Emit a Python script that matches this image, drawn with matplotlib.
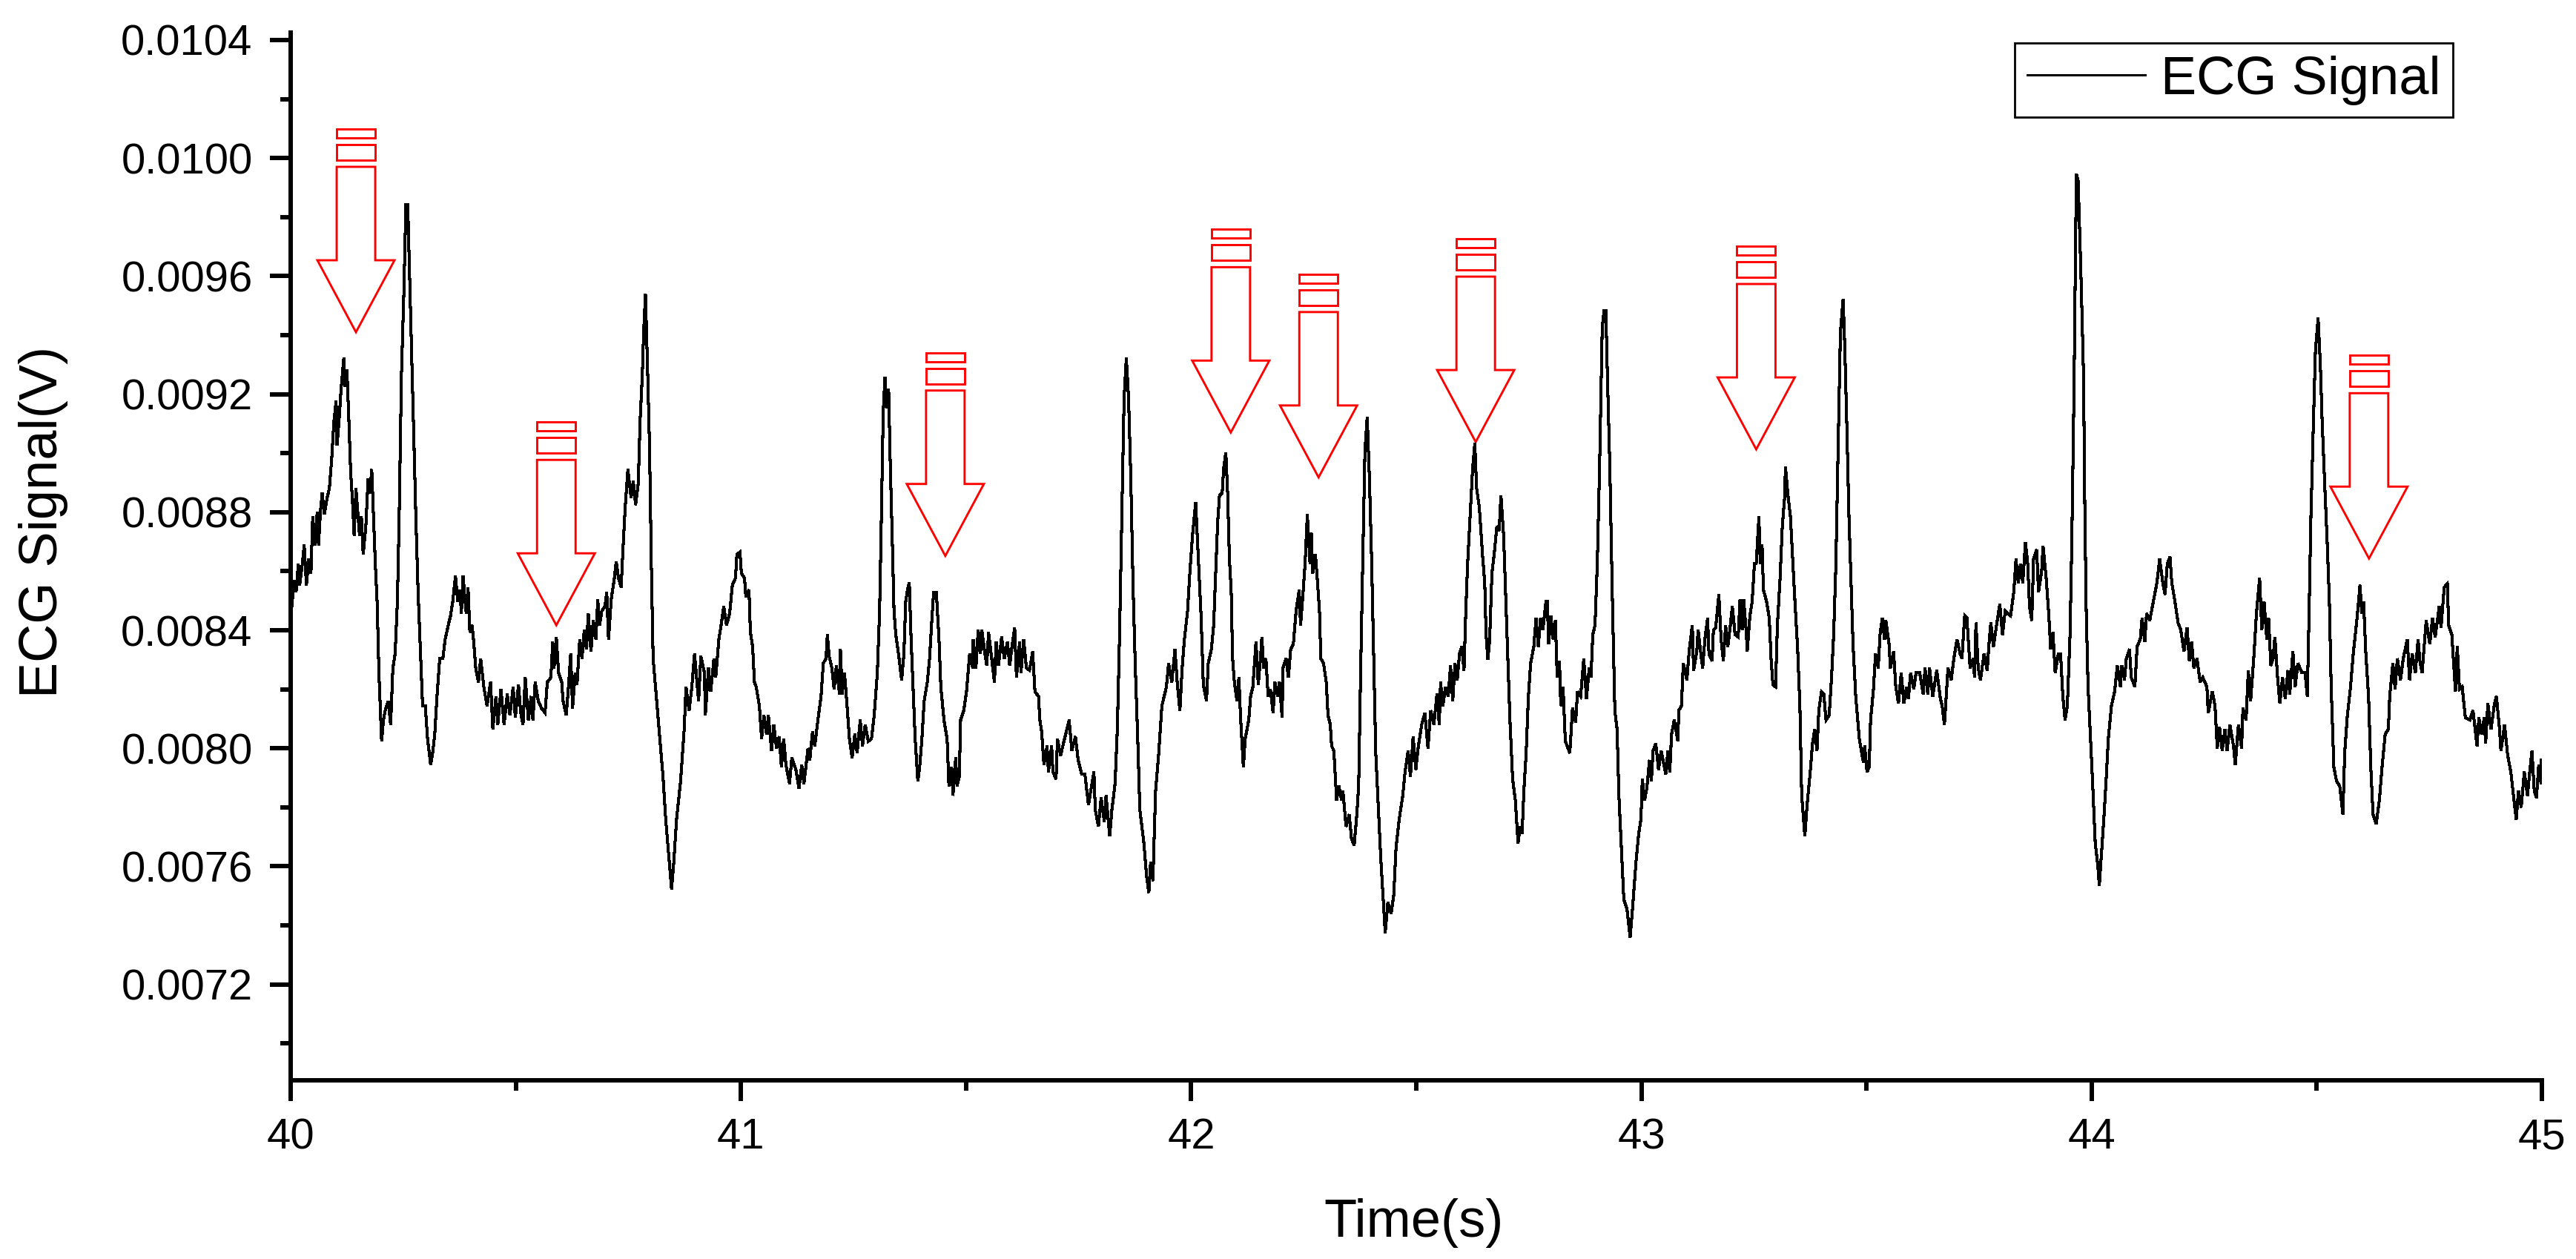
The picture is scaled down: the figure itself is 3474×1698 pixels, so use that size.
import numpy as np
import matplotlib
matplotlib.use("Agg")
import matplotlib.pyplot as plt
from matplotlib.patches import Polygon, Rectangle
from matplotlib.transforms import ScaledTranslation

plt.rcParams["font.family"] = ["Liberation Sans", "DejaVu Sans"]

# ms inside each second, signal in microvolts
ms_40 = [2,8,12,17,20,26,30,35,40,45,49,54,59,62,66,70,75,81,86,91,96,101,103,108,112,118,121,125,129,133,138,141,145,149,153,157,161,167,172,176,180,184,188,192,196,202,206,210,217,222,227,232,237,241,246,251,256,260,265,269,274,278,283,288,293,299,304,311,316,320,325,331,338,343,350,355,360,366,371,376,379,383,387,390,394,398,403,407,411,417,422,429,436,444,449,456,460,467,474,481,487,494,499,506,511,516,521,528,534,538,543,550,557,565,570,578,582,585,590,595,602,605,612,617,622,626,632,636,642,647,652,657,661,667,672,678,682,686,691,698,702,706,712,719,723,728,734,738,743,749,756,761,766,772,776,781,784,788,793,797,801,805,813,820,827,833,840,846,851,857,866,874,878,885,891,897,906,911,919,921,928,933,940,944,951,956,962,968,975,981,988,991,998]
uv_40 = [8473,8569,8529,8625,8553,8625,8689,8553,8641,8593,8785,8689,8801,8689,8801,8865,8793,8849,8881,8978,9106,9178,9026,9122,9218,9322,9226,9282,9122,8945,8817,8721,8881,8801,8721,8785,8657,8753,8913,8865,8945,8785,8625,8497,8256,8024,8096,8128,8160,8080,8272,8320,8497,8785,9266,9522,9843,9843,9554,9314,9026,8785,8529,8336,8144,8144,8032,7944,7992,8048,8176,8304,8304,8369,8417,8449,8497,8585,8497,8537,8457,8585,8505,8457,8545,8393,8417,8353,8272,8224,8304,8208,8144,8224,8064,8176,8080,8200,8080,8184,8112,8208,8104,8216,8120,8080,8240,8096,8176,8096,8224,8160,8136,8120,8224,8240,8361,8272,8377,8256,8224,8160,8112,8208,8320,8136,8256,8216,8369,8304,8401,8336,8457,8328,8433,8369,8505,8417,8465,8481,8529,8369,8505,8577,8633,8577,8545,8673,8817,8945,8849,8905,8825,8897,9106,9266,9410,9538,9266,9026,8625,8304,8160,8032,7904,7759,7631,7522,7615,7759,7888,8064,8208,8128,8208,8320,8160,8312,8256,8112,8272,8192,8304,8240,8369,8417,8481,8417,8457,8553,8577,8657,8665]

ms_41 = [1,8,11,18,21,26,30,34,41,46,51,57,61,68,73,79,85,90,95,100,108,113,122,129,135,140,149,153,159,164,171,178,183,189,192,196,202,207,212,219,221,225,230,235,241,247,253,258,265,270,276,283,290,296,303,308,312,316,320,323,328,332,337,340,344,350,357,362,366,370,374,378,384,387,393,397,402,407,414,419,424,428,434,440,444,451,458,462,468,471,477,480,485,488,495,501,508,515,516,522,527,532,535,542,546,550,557,563,567,572,579,585,592,597,602,608,612,619,622,628,634,641,648,653,661,664,668,673,680,683,690,693,700,703,710,720,729,735,743,749,757,764,772,777,784,787,794,800,807,811,819,824,831,836,841,845,851,856,861,866,871,876,881,886,895,901,906,910,915,921,928,935,940,945,950,957,964,969,975,980,985,992,997]
uv_41 = [8593,8577,8513,8537,8393,8345,8224,8208,8144,8032,8112,8048,8112,7992,8080,8000,8040,7936,8032,7944,7880,7968,7928,7864,7944,7880,8000,7960,8056,8008,8096,8176,8288,8304,8385,8312,8272,8200,8280,8184,8336,8184,8256,8160,8032,7968,8048,7984,8096,8008,8080,8024,8032,8112,8256,8465,8785,9138,9258,9154,9218,8945,8657,8465,8385,8320,8232,8320,8497,8537,8561,8369,8144,8032,7888,7936,8032,8160,8224,8304,8433,8529,8529,8369,8208,8096,8032,7872,7936,7840,7968,7872,7904,8096,8128,8192,8320,8272,8369,8272,8401,8320,8401,8320,8280,8393,8304,8224,8361,8280,8377,8304,8361,8280,8345,8409,8240,8361,8256,8369,8272,8264,8328,8192,8176,8096,8056,7944,8008,7920,8008,7920,7896,8032,7976,8040,8096,7992,8040,7960,7912,7912,7808,7856,7920,7792,7735,7832,7752,7840,7703,7792,7880,8064,8385,8705,9186,9322,9186,8913,8545,8272,8048,7792,7679,7567,7511,7615,7551,7856,7984,8144,8176,8208,8288,8224,8336,8224,8128,8272,8369,8465,8593]

ms_42 = [3,10,15,22,27,34,38,45,50,54,59,63,69,72,77,81,85,89,92,96,102,106,110,116,120,128,132,137,144,149,154,157,161,166,171,176,182,186,192,196,202,204,211,216,221,227,233,240,243,249,253,258,264,267,270,276,280,285,288,294,300,304,309,312,317,323,328,334,337,344,351,356,362,368,372,376,381,386,391,396,401,406,410,415,421,428,431,437,444,450,455,462,470,475,482,487,493,499,504,512,519,526,532,539,546,551,554,559,565,571,576,581,586,591,596,601,606,610,614,620,625,630,634,640,647,652,655,659,663,668,673,679,684,688,694,699,704,708,714,720,726,731,735,739,744,749,754,761,766,771,776,781,788,791,794,799,804,809,813,818,821,826,831,841,847,854,858,865,872,878,884,888,892,897,902,907,913,917,921,925,930,935,941,946,950,956,961,968,975,981,988,994,999]
uv_42 = [8721,8833,8673,8449,8216,8160,8288,8336,8417,8577,8769,8857,8865,8945,9002,8865,8641,8529,8304,8224,8160,8240,8096,7936,8032,8096,8176,8208,8361,8216,8304,8377,8272,8304,8176,8200,8120,8224,8176,8224,8104,8272,8304,8240,8336,8353,8465,8537,8417,8537,8625,8793,8625,8729,8593,8657,8577,8465,8304,8288,8224,8112,8080,8008,7992,7824,7872,7824,7856,7735,7776,7695,7671,7776,7872,8224,8625,9010,9122,8913,8625,8272,7984,7824,7631,7455,7375,7479,7439,7503,7663,7759,7840,7920,7992,7904,8040,7928,8000,8080,8120,8000,8128,8080,8184,8080,8224,8144,8208,8176,8280,8160,8288,8232,8320,8345,8264,8465,8625,8801,8945,9034,8881,8817,8657,8561,8385,8300,8369,8593,8657,8753,8737,8857,8721,8497,8272,8096,7896,7824,7679,7735,7711,7856,7984,8176,8288,8345,8441,8345,8441,8401,8497,8497,8353,8449,8369,8433,8240,8296,8144,8208,8024,7984,8136,8088,8192,8176,8304,8168,8272,8240,8385,8417,8625,8945,9426,9482,9482,9234,8945,8545,8128,8064,7840,7647,7487,7455,7359,7471,7615,7711,7759]

ms_43 = [2,7,12,18,22,26,32,38,44,54,59,63,67,73,81,83,89,93,101,106,113,116,123,126,132,136,141,147,150,157,160,165,172,177,182,187,192,197,202,208,215,219,224,227,233,235,241,246,251,255,261,264,268,271,278,284,288,292,298,302,308,313,318,320,325,331,336,341,347,352,356,363,368,375,380,385,390,394,400,405,410,417,422,427,432,437,442,448,452,456,461,466,470,476,484,493,496,501,506,509,515,520,526,530,535,540,543,550,553,560,565,571,577,583,589,593,598,605,610,618,626,630,636,640,647,656,664,668,673,681,688,694,701,708,712,718,723,730,737,740,743,748,753,761,768,772,776,782,788,796,802,808,813,820,827,832,837,842,847,853,858,862,867,871,878,882,889,892,899,905,909,914,919,926,931,936,941,946,952,956,961,966,970,976]
uv_43 = [7896,7824,7864,7960,7888,7992,8016,7928,7992,7912,7992,7920,8048,8096,8024,8128,8144,8288,8232,8328,8417,8264,8328,8401,8320,8272,8369,8441,8320,8296,8401,8409,8521,8369,8296,8417,8345,8409,8481,8385,8377,8505,8401,8505,8393,8328,8449,8497,8625,8625,8785,8625,8689,8537,8497,8441,8304,8216,8208,8417,8577,8753,8849,8953,8865,8785,8641,8497,8336,8144,7840,7703,7808,7920,8016,8064,7992,8128,8192,8184,8096,8112,8232,8385,8625,9026,9410,9522,9346,9106,8785,8545,8353,8176,8032,7952,8008,7920,7936,8096,8192,8320,8272,8385,8441,8369,8433,8353,8272,8328,8208,8152,8256,8152,8208,8168,8256,8200,8256,8256,8184,8272,8184,8272,8176,8264,8168,8144,8080,8272,8232,8304,8369,8320,8304,8449,8441,8272,8304,8240,8425,8272,8232,8320,8264,8353,8425,8345,8409,8489,8385,8465,8457,8449,8529,8641,8561,8625,8561,8697,8625,8481,8433,8641,8673,8529,8601,8686,8577,8449,8336,8393,8256,8320,8320,8176,8096,8144,8385,8705,9234,9945,9923,9619]

ms_44 = [-18,-15,-12,-8,-3,2,8,14,17,22,27,32,37,44,51,57,64,67,73,77,84,88,96,101,108,112,118,122,129,136,145,151,158,163,168,174,178,185,192,198,205,212,217,222,227,234,241,247,256,259,268,274,279,284,290,296,301,307,315,319,326,333,336,343,348,353,360,366,373,378,383,389,393,398,403,407,413,418,424,430,436,440,447,452,458,467,474,479,483,487,492,497,503,508,512,518,523,528,532,538,544,551,558,562,568,575,581,590,596,600,604,609,615,620,625,632,639,645,652,659,662,669,674,679,686,692,701,706,712,719,725,729,734,743,751,757,763,772,776,783,790,793,800,808,812,817,823,830,840,847,856,860,866,872,875,880,887,894,899,906,909,917,924,931,938,943,948,954,961,968,973,978,983,988,993,998,999]
uv_44 = [9266,8785,8465,8208,8048,7888,7679,7599,7535,7647,7759,7888,8032,8144,8192,8280,8208,8280,8232,8304,8336,8240,8208,8345,8369,8441,8361,8457,8433,8489,8561,8641,8561,8521,8625,8649,8561,8497,8425,8401,8328,8409,8296,8361,8272,8304,8224,8240,8208,8120,8192,8144,8000,8072,7992,8064,7992,8080,8008,7944,8080,8000,8136,8096,8264,8160,8304,8457,8577,8401,8497,8369,8441,8280,8304,8377,8240,8152,8240,8168,8264,8184,8328,8208,8288,8256,8256,8176,8465,8785,9074,9346,9458,9298,9106,8881,8705,8497,8208,7936,7888,7872,7776,7984,8112,8208,8320,8449,8553,8457,8497,8320,8176,7936,7776,7744,7824,7936,8048,8064,8176,8288,8200,8304,8232,8304,8369,8232,8320,8256,8369,8296,8256,8433,8353,8441,8377,8481,8409,8545,8558,8417,8385,8192,8345,8200,8208,8104,8096,8128,8008,8104,8048,8104,8016,8152,8064,8144,8176,8064,7992,8080,7976,7920,7824,7759,7856,7800,7920,7840,7920,7992,7856,7832,7944,7880,7960]

# arrow tips (s, V)
pijl_t = [40.145, 40.590, 41.454, 42.088, 42.283, 42.632, 43.255, 44.616]
pijl_v = [0.00941, 0.008417, 0.008652, 0.009070, 0.008918, 0.009038, 0.009013, 0.008643]

x_ticks = [40, 41, 42, 43, 44, 45]
y_ticks = [0.0072, 0.0076, 0.0080, 0.0084, 0.0088, 0.0092, 0.0096, 0.0100, 0.0104]

zaman = np.concatenate([40 + np.array(ms_40) / 1000, 41 + np.array(ms_41) / 1000,
                        42 + np.array(ms_42) / 1000, 43 + np.array(ms_43) / 1000,
                        44 + np.array(ms_44) / 1000])
sinyal = np.concatenate([uv_40, uv_41, uv_42, uv_43, uv_44]) * 1e-6

W, H = 3474, 1698
fig = plt.figure(figsize=(W / 100, H / 100), dpi=100)
ax = fig.add_axes([392 / W, (H - 1457) / H, 3036 / W, 1413 / H])

ax.plot(zaman, sinyal, color="black", lw=2.2, label="ECG Signal",
        solid_joinstyle="miter", antialiased=False)

ax.set_xlim(40, 45)
ax.set_ylim(0.006875, 0.010425)
ax.set_xticks(x_ticks)
ax.set_yticks(y_ticks)
ax.set_yticklabels(["%.4f" % y for y in y_ticks])
ax.set_xticks([40.5, 41.5, 42.5, 43.5, 44.5], minor=True)
ax.set_yticks(np.arange(0.0070, 0.0104, 0.0004), minor=True)

ax.tick_params(which="major", length=20, width=4.3, labelsize=41.8)
ax.tick_params(which="minor", length=10, width=4.3)
ax.tick_params(axis="x", which="major", pad=16)
ax.tick_params(axis="y", which="major", pad=17)

ax.spines["top"].set_visible(False)
ax.spines["right"].set_visible(False)
ax.spines["left"].set_linewidth(4.3)
ax.spines["bottom"].set_linewidth(4.3)

ax.set_xlabel("Time(s)", fontsize=52, va="center")
ax.set_ylabel("ECG Signal(V)", fontsize=52, va="center")
ax.xaxis.set_label_coords(0.499, -0.1365)
ax.yaxis.set_label_coords(-0.110, 0.533)

# hollow red arrows, shape in pixels around the tip
for t, v in zip(pijl_t, pijl_v):
    tr = ScaledTranslation(t, v, ax.transData)
    govde = [(0, 0), (-52, 97), (-26, 97), (-26, 223), (26, 223), (26, 97), (52, 97)]
    ax.add_patch(Polygon(govde, closed=True, fill=False, ec="red", lw=2.1,
                         joinstyle="miter", transform=tr, clip_on=False))
    ax.add_patch(Rectangle((-26, 232), 52, 21, fill=False, ec="red", lw=2.1,
                           transform=tr, clip_on=False))
    ax.add_patch(Rectangle((-26, 262), 52, 12, fill=False, ec="red", lw=2.1,
                           transform=tr, clip_on=False))

leg = ax.legend(loc="upper left", bbox_to_anchor=(2717 / W, (H - 58) / H),
                bbox_transform=fig.transFigure, fontsize=52, fancybox=False,
                framealpha=1, edgecolor="black", borderaxespad=0, borderpad=0.23,
                handlelength=2.2, handletextpad=0.3)
leg.get_frame().set_linewidth(2.0)

fig.savefig("out.png", dpi=100, facecolor="white")
